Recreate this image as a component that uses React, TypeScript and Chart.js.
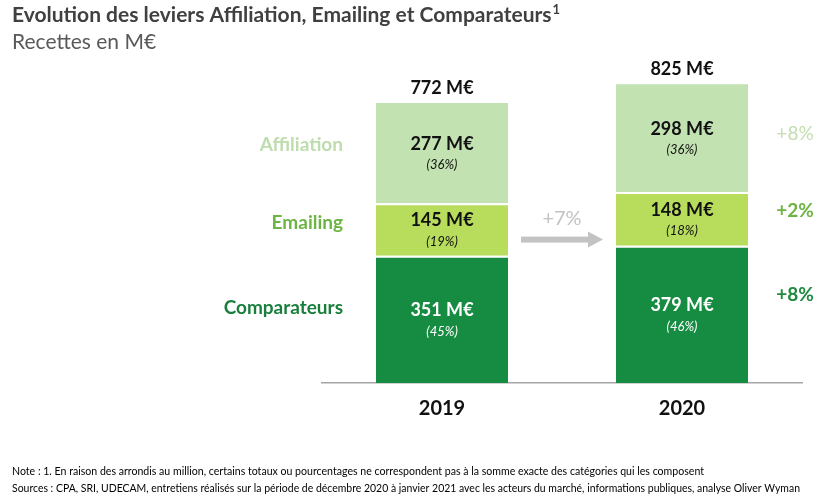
import React, { useEffect, useRef } from "react";
import { Chart, registerables } from "chart.js";

Chart.register(...registerables);

const years = ["2019", "2020"];
const seriesNames = ["Comparateurs", "Emailing", "Affiliation"];
const comparateurs = [351, 379];
const emailing = [145, 148];
const affiliation = [277, 298];
const comparateursPct = ["(45%)", "(46%)"];
const emailingPct = ["(19%)", "(18%)"];
const affiliationPct = ["(36%)", "(36%)"];
const totals = [772, 825];
const growth = ["+8%", "+2%", "+8%"]; // Comparateurs, Emailing, Affiliation
const totalGrowth = "+7%";

const title = "Evolution des leviers Affiliation, Emailing et Comparateurs";
const subtitle = "Recettes en M€";
const note1 =
  "Note : 1. En raison des arrondis au million, certains totaux ou pourcentages ne correspondent pas à la somme exacte des catégories qui les composent";
const note2 =
  "Sources : CPA, SRI, UDECAM, entretiens réalisés sur la période de décembre 2020 à janvier 2021 avec les acteurs du marché, informations publiques, analyse Oliver Wyman";

const FONT = "Lato, 'Open Sans', sans-serif";
const barColors = ["#168c42", "#b8dc5c", "#c3e2b2"];
const leftLabelColors = ["#1a7f3c", "#6cb544", "#bedcae"];
const rightLabelColors = ["#1f8a40", "#6cb544", "#c3ddb0"];

export default function App() {
  const ref = useRef<HTMLCanvasElement>(null);

  useEffect(() => {
    if (!ref.current) return;
    const values = [comparateurs, emailing, affiliation];
    const pcts = [comparateursPct, emailingPct, affiliationPct];

    const overlay = {
      id: "overlay",
      afterDraw(chart: any) {
        const ctx = chart.ctx as CanvasRenderingContext2D;
        ctx.save();
        // Title
        ctx.textAlign = "left";
        ctx.textBaseline = "middle";
        ctx.fillStyle = "#404040";
        ctx.font = `bold 21px ${FONT}`;
        ctx.fillText(title, 12, 15, 541);
        const tw = Math.min(ctx.measureText(title).width, 541);
        ctx.font = `bold 13px ${FONT}`;
        ctx.fillText("1", 12 + tw + 1, 10);
        ctx.fillStyle = "#595959";
        ctx.font = `21px ${FONT}`;
        ctx.fillText(subtitle, 12, 42);

        // Notes
        ctx.fillStyle = "#000";
        ctx.font = `11px ${FONT}`;
        ctx.fillText(note1, 12, 471, 692);
        ctx.fillText(note2, 12, 488, 788);

        const metas = [0, 1, 2].map((i) => chart.getDatasetMeta(i));
        // segment labels
        ctx.textAlign = "center";
        for (let d = 0; d < 3; d++) {
          for (let j = 0; j < years.length; j++) {
            const bar = metas[d].data[j];
            const cy = (bar.y + bar.base) / 2;
            ctx.fillStyle = d === 0 ? "#ffffff" : "#111111";
            ctx.font = `bold 18px ${FONT}`;
            ctx.fillText(`${values[d][j]} M€`, bar.x, cy - 9);
            ctx.font = `italic 13px ${FONT}`;
            ctx.fillText(pcts[d][j], bar.x, cy + 12);
          }
        }
        // totals
        ctx.fillStyle = "#111111";
        ctx.font = `bold 18px ${FONT}`;
        for (let j = 0; j < years.length; j++) {
          const top = metas[2].data[j];
          ctx.fillText(`${totals[j]} M€`, top.x, top.y - 15);
        }
        // left category labels (by 2019 segments)
        ctx.textAlign = "right";
        ctx.font = `bold 19px ${FONT}`;
        const lOff = [-12, -7, -8];
        for (let d = 0; d < 3; d++) {
          const bar = metas[d].data[0];
          const cy = (bar.y + bar.base) / 2;
          ctx.fillStyle = leftLabelColors[d];
          ctx.fillText(seriesNames[d], bar.x - bar.width / 2 - 33, cy + lOff[d]);
        }
        // right growth labels (by 2020 segments)
        ctx.textAlign = "center";
        const rOff = [-19, -8, -4];
        for (let d = 0; d < 3; d++) {
          const bar = metas[d].data[1];
          const cy = (bar.y + bar.base) / 2;
          ctx.fillStyle = rightLabelColors[d];
          ctx.font = `${d === 2 ? "" : "bold "}19px ${FONT}`;
          ctx.fillText(growth[d], bar.x + bar.width / 2 + 47, cy + rOff[d]);
        }
        // arrow between bars
        const b1 = metas[1].data[0];
        const b2 = metas[1].data[1];
        const x1 = b1.x + b1.width / 2 + 13;
        const x2 = b2.x - b2.width / 2 - 13;
        const ay = (b1.y + b1.base) / 2 + 10;
        ctx.fillStyle = "#c3c3c3";
        ctx.fillRect(x1, ay - 3, x2 - x1 - 13, 6);
        ctx.beginPath();
        ctx.moveTo(x2 - 15, ay - 8);
        ctx.lineTo(x2, ay);
        ctx.lineTo(x2 - 15, ay + 8);
        ctx.closePath();
        ctx.fill();
        ctx.font = `20px ${FONT}`;
        ctx.fillText(totalGrowth, (x1 + x2) / 2, ay - 21);
        ctx.restore();
      },
    };

    const chart = new Chart(ref.current, {
      type: "bar",
      data: {
        labels: years,
        datasets: values.map((v, i) => ({
          label: seriesNames[i],
          data: v,
          backgroundColor: barColors[i],
          borderColor: "#ffffff",
          borderWidth: i === 2 ? 0 : { top: 2, left: 0, right: 0, bottom: 0 },
          borderSkipped: false,
          barPercentage: 0.55,
          categoryPercentage: 1,
        })),
      },
      options: {
        responsive: false,
        animation: false,
        layout: { padding: { left: 322, right: 27, top: 57, bottom: 0 } },
        plugins: {
          legend: { display: false },
          tooltip: { enabled: false },
          title: { display: false },
        },
        scales: {
          x: {
            stacked: true,
            grid: { display: false, drawTicks: false },
            border: { display: true, color: "#a6a6a6", width: 1.5 },
            ticks: {
              padding: 14,
              color: "#111111",
              font: { family: FONT, size: 20, weight: "bold" },
            },
            afterFit: (scale: any) => {
              scale.height = 115;
            },
          },
          y: {
            stacked: true,
            display: false,
            min: 0,
            max: 900,
          },
        },
      },
      plugins: [overlay],
    });
    return () => chart.destroy();
  }, []);

  return (
    <div style={{ position: "absolute", left: 0, top: 0, width: 829, height: 498, background: "#fff" }}>
      <canvas ref={ref} width={829} height={498} />
    </div>
  );
}
